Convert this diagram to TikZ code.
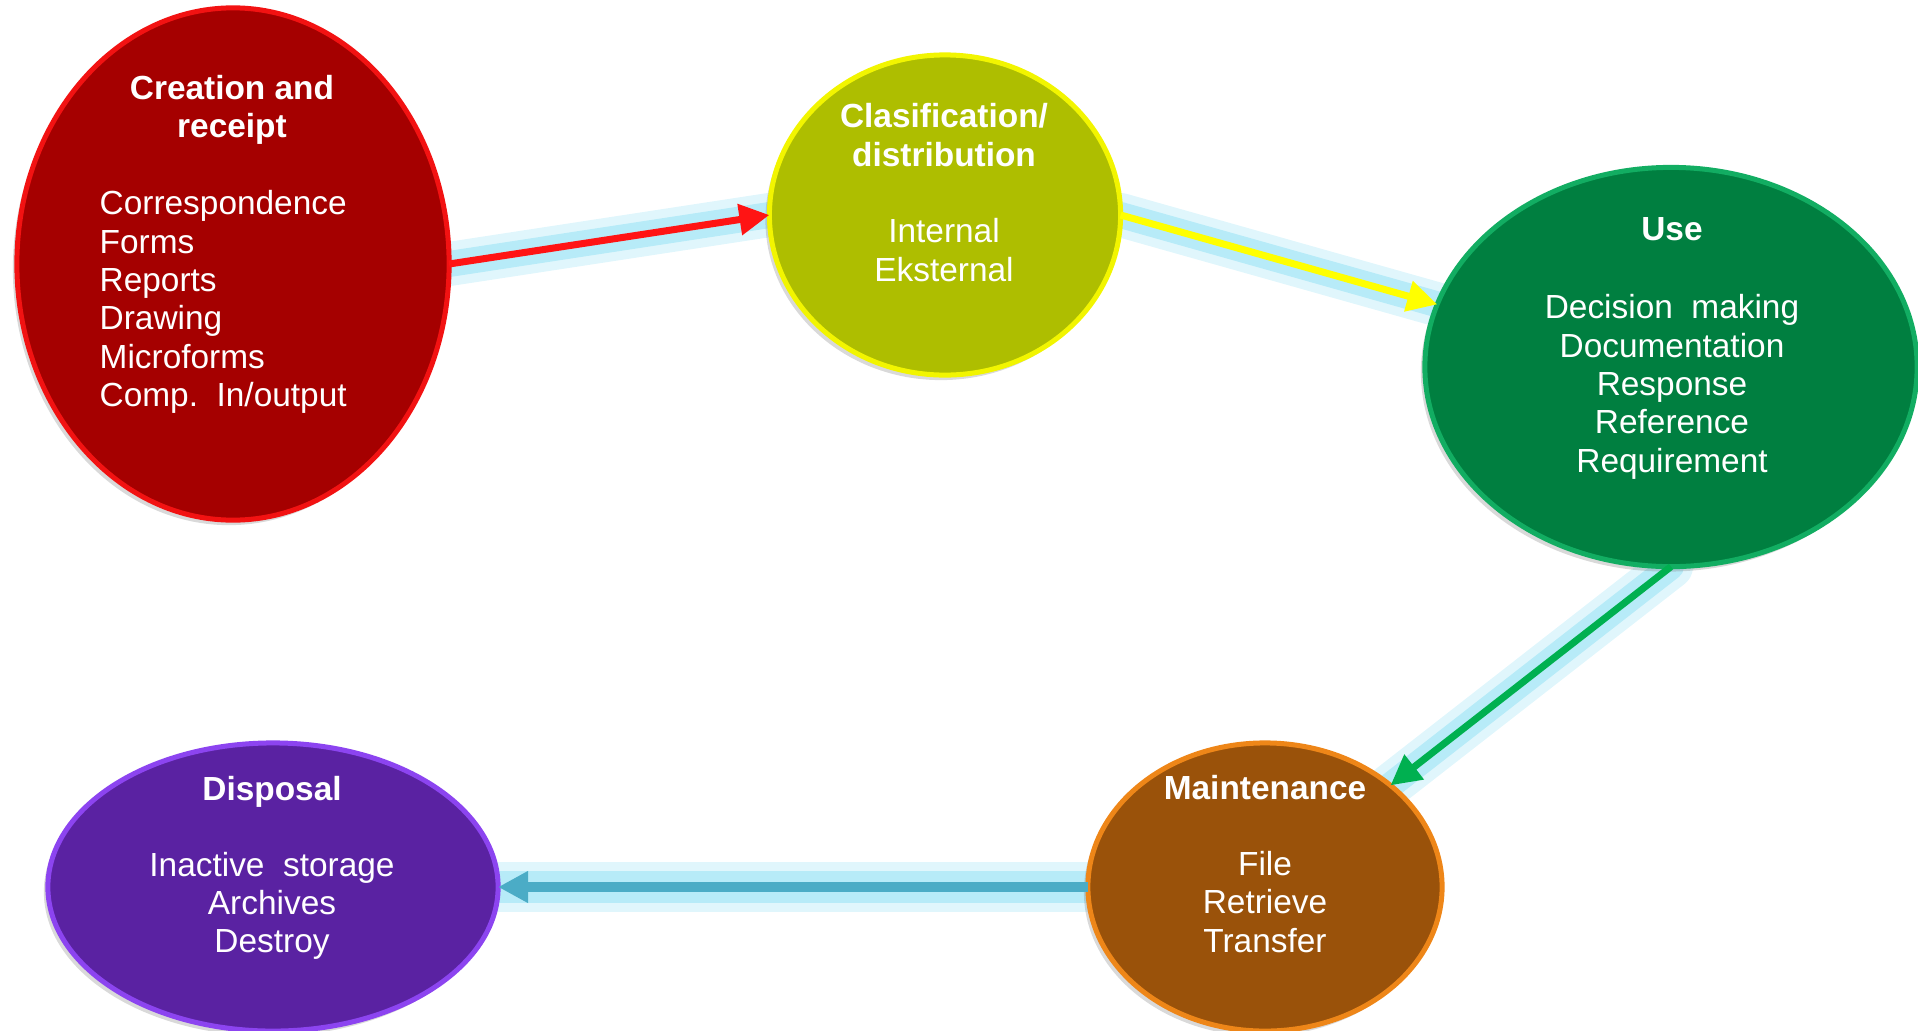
\documentclass[tikz,border=0pt]{standalone}
\usepackage{fontspec}
\setmainfont{Liberation Sans}
\usetikzlibrary{arrows.meta,positioning,shapes.geometric,shadows,backgrounds}

\definecolor{creationfill}{HTML}{A50000}
\definecolor{creationrim}{HTML}{F21212}
\definecolor{classfill}{HTML}{AEBE00}
\definecolor{classrim}{HTML}{F2F500}
\definecolor{usefill}{HTML}{007F40}
\definecolor{userim}{HTML}{12AD62}
\definecolor{maintfill}{HTML}{9A520A}
\definecolor{maintrim}{HTML}{EE8618}
\definecolor{disposalfill}{HTML}{5A22A2}
\definecolor{disposalrim}{HTML}{8C44F0}
\definecolor{flowred}{HTML}{FF1414}
\definecolor{flowyellow}{HTML}{FFFF00}
\definecolor{flowgreen}{HTML}{00B050}
\definecolor{flowblue}{HTML}{4BACC6}
\definecolor{glowblue}{HTML}{A6E6F6}

\tikzset{
    stage/.style={ellipse,inner sep=0pt,outer sep=0pt,line width=0.05cm,
        drop shadow={opacity=0.3,shadow xshift=-0.04cm,shadow yshift=-0.05cm}},
    stagetitle/.style={text=white,inner sep=0pt,align=center,
        font=\fontsize{9.5}{10.9}\selectfont\bfseries},
    stagelist/.style={text=white,inner sep=0pt,align=center,
        font=\fontsize{9.5}{10.9}\selectfont},
    flow/.style={line width=0.07cm,-{Triangle[length=0.3cm,width=0.3cm]}},
    glow/.style={line width=0.44cm,draw=glowblue,opacity=0.35,line cap=round},
    innerglow/.style={line width=0.26cm,draw=glowblue,opacity=0.7,line cap=round},
}

\begin{document}
\begin{tikzpicture}[x=0.01cm,y=-0.01cm]
    \useasboundingbox (0,0) rectangle (1918,1030);

    %%% Stages
    \node[stage,fill=creationfill,draw=creationrim,minimum width=4.32cm,minimum height=5.12cm] (creation) at (233,264) {};
    \node[stage,fill=classfill,draw=classrim,minimum width=3.51cm,minimum height=3.2cm] (classification) at (945,215) {};
    \node[stage,fill=usefill,draw=userim,minimum width=4.92cm,minimum height=3.99cm] (use) at (1671,367) {};
    \node[stage,fill=maintfill,draw=maintrim,minimum width=3.54cm,minimum height=2.88cm] (maintenance) at (1265,887) {};
    \node[stage,fill=disposalfill,draw=disposalrim,minimum width=4.5cm,minimum height=2.88cm] (disposal) at (273,887) {};

    %%% Texts
    \node[stagetitle] (creationtitle) at (232,110) {Creation and\\receipt};
    \node[stagelist,align=left,anchor=west] (creationlist) at (99,302) {Correspondence\\Forms\\Reports\\Drawing\\Microforms\\Comp.\ \ In/output};
    \node[stagetitle] (classtitle) at (944,135) {Clasification/\\distribution};
    \node[stagelist] (classlist) at (944,250) {Internal\\Eksternal};
    \node[stagetitle] (usetitle) at (1672,229) {Use};
    \node[stagelist] (uselist) at (1672,387) {Decision\ \ making\\Documentation\\Response\\Reference\\Requirement};
    \node[stagetitle] (mainttitle) at (1265,788) {Maintenance};
    \node[stagelist] (maintlist) at (1265,902) {File\\Retrieve\\Transfer};
    \node[stagetitle] (disposaltitle) at (272,792) {Disposal};
    \node[stagelist] (disposallist) at (272,906) {Inactive\ \ storage\\Archives\\Destroy};

    %%% Flows
    \begin{scope}[on background layer]
        \draw[glow] (creation.east) -- (classification.west);
        \draw[innerglow] (creation.east) -- (classification.west);
        \draw[glow] (classification.east) -- (use.165);
        \draw[innerglow] (classification.east) -- (use.165);
        \draw[glow] (use.south) -- (maintenance.39);
        \draw[innerglow] (use.south) -- (maintenance.39);
        \draw[glow,line width=0.5cm] (maintenance.west) -- (disposal.east);
        \draw[innerglow,line width=0.32cm] (maintenance.west) -- (disposal.east);
    \end{scope}
    \draw[flow,flowred] (creation.east) -- (classification.west);
    \draw[flow,flowyellow] (classification.east) -- (use.165);
    \draw[flow,flowgreen] (use.south) -- (maintenance.39);
    \draw[flow,flowblue,line width=0.1cm] (maintenance.west) -- (disposal.east);
\end{tikzpicture}
\end{document}
